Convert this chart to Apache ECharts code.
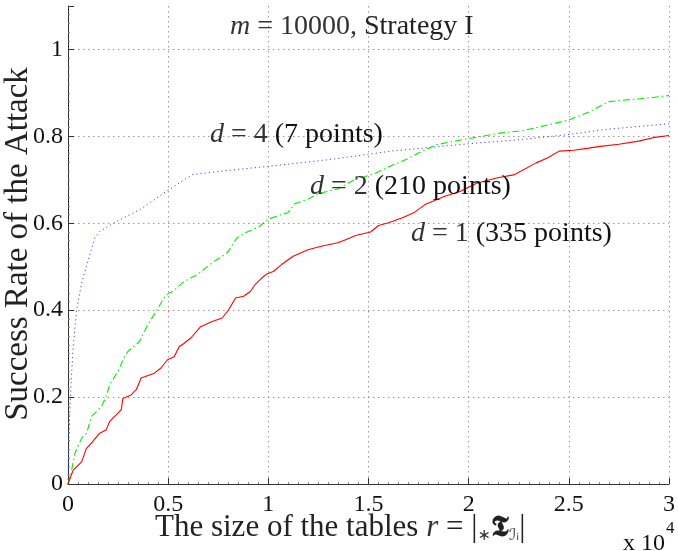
<!DOCTYPE html>
<html><head><meta charset="utf-8">
<script src="https://cdn.jsdelivr.net/npm/echarts@6/dist/echarts.min.js"></script>
<style>html,body{margin:0;padding:0;background:#fff}#c{width:678px;height:551px}</style>
</head><body><div id="c"></div>
<script>
// x values are in units of 10^4
const xTicks = [0, 0.5, 1, 1.5, 2, 2.5, 3];
const yTicks = [0, 0.2, 0.4, 0.6, 0.8, 1];

const redX = [0, 0.026, 0.068, 0.092, 0.117, 0.158, 0.19, 0.208, 0.241, 0.266, 0.274, 0.315, 0.341, 0.365, 0.431, 0.464, 0.497, 0.53, 0.555, 0.58, 0.613, 0.662, 0.72, 0.77, 0.802, 0.836, 0.877, 0.91, 0.934, 0.967, 0.995, 1.025, 1.066, 1.124, 1.198, 1.264, 1.347, 1.38, 1.436, 1.51, 1.551, 1.6, 1.667, 1.726, 1.782, 1.881, 1.957, 2.04, 2.139, 2.23, 2.337, 2.393, 2.452, 2.525, 2.6, 2.657, 2.75, 2.848, 2.921, 3.0];
const redY = [0, 0.032, 0.051, 0.082, 0.094, 0.117, 0.124, 0.144, 0.159, 0.171, 0.197, 0.205, 0.217, 0.244, 0.255, 0.267, 0.286, 0.293, 0.316, 0.324, 0.336, 0.362, 0.374, 0.382, 0.401, 0.428, 0.432, 0.443, 0.459, 0.474, 0.484, 0.489, 0.505, 0.524, 0.539, 0.547, 0.555, 0.561, 0.572, 0.580, 0.595, 0.601, 0.612, 0.624, 0.643, 0.662, 0.673, 0.692, 0.704, 0.712, 0.739, 0.750, 0.766, 0.768, 0.773, 0.777, 0.782, 0.789, 0.797, 0.802];

const greenX = [0, 0.018, 0.035, 0.068, 0.093, 0.117, 0.167, 0.19, 0.208, 0.249, 0.282, 0.299, 0.357, 0.398, 0.439, 0.489, 0.522, 0.58, 0.646, 0.72, 0.794, 0.81, 0.843, 0.885, 0.951, 1.0, 1.042, 1.099, 1.132, 1.2, 1.248, 1.347, 1.429, 1.528, 1.627, 1.693, 1.768, 1.842, 1.941, 2.04, 2.163, 2.27, 2.403, 2.502, 2.6, 2.7, 2.865, 3.0];
const greenY = [0, 0.032, 0.071, 0.105, 0.117, 0.155, 0.178, 0.201, 0.228, 0.259, 0.293, 0.305, 0.328, 0.366, 0.397, 0.435, 0.443, 0.466, 0.482, 0.509, 0.532, 0.543, 0.566, 0.578, 0.591, 0.610, 0.616, 0.625, 0.645, 0.656, 0.668, 0.679, 0.700, 0.714, 0.735, 0.748, 0.766, 0.781, 0.790, 0.798, 0.808, 0.813, 0.827, 0.838, 0.856, 0.880, 0.887, 0.894];

const blueX = [0, 0.003, 0.007, 0.015, 0.026, 0.043, 0.068, 0.101, 0.134, 0.158, 0.241, 0.357, 0.489, 0.621, 0.786, 1.0, 1.33, 1.611, 2.0, 2.27, 2.493, 2.684, 3.0];
const blueY = [0, 0.07, 0.14, 0.232, 0.316, 0.401, 0.462, 0.516, 0.566, 0.581, 0.604, 0.631, 0.673, 0.712, 0.721, 0.731, 0.748, 0.766, 0.783, 0.793, 0.804, 0.816, 0.829];

const titleMath = 'm';
const titleRest = ' = 10000, ';
const titleWord = 'Strategy I';
const annLabels = [
  ['d', ' = 4 ', '(7 points)'],
  ['d', ' = 2 ', '(210 points)'],
  ['d', ' = 1 ', '(335 points)']
];
const yLabel = 'Success Rate of the Attack';
const xLabelText = 'The size of the tables ';
const xScaleText = 'x 10';
const xScaleExp = '4';

function pairs(xs, ys) { return xs.map((x, i) => [x, ys[i]]); }

const serif = 'Liberation Serif';
const chart = echarts.init(document.getElementById('c'), null, { renderer: 'canvas' });

function txt(x, y, text, rich, extra) {
  return {
    type: 'text', x: x, y: y, z: 100,
    style: Object.assign({
      text: text, rich: rich,
      textAlign: 'left', align: 'left',
      textVerticalAlign: 'middle', verticalAlign: 'middle',
      fill: '#222', fontFamily: serif, fontSize: 28
    }, extra || {})
  };
}
const mathRich = {
  m: { fontFamily: serif, fontStyle: 'italic', fontSize: 28, fill: '#333', color: '#333' },
  t: { fontFamily: serif, fontSize: 28, fill: '#333', color: '#333' },
  p: { fontFamily: serif, fontSize: 28, fill: '#111', color: '#111' },
  s: { fontFamily: serif, fontSize: 28, fill: '#222', color: '#222' }
};
const annPos = [[210, 135], [310, 187], [411, 234]];

const graphics = [];
graphics.push(txt(230, 27, '{m|' + titleMath + '}{t|' + titleRest + '}{s|' + titleWord + '}', mathRich));
annLabels.forEach((a, i) => {
  graphics.push(txt(annPos[i][0], annPos[i][1], '{m|' + a[0] + '}{t|' + a[1] + '}{p|' + a[2] + '}', mathRich));
});
const xRich = {
  a: { fontFamily: serif, fontSize: 31, fill: '#222', color: '#222' },
  m: { fontFamily: serif, fontStyle: 'italic', fontSize: 31, fill: '#333', color: '#333' },
  sb: { fontFamily: 'DejaVu Sans', fontSize: 16, fill: '#333', color: '#333', verticalAlign: 'bottom' },
  f: { fontFamily: 'DejaVu Sans', fontWeight: 'bold', fontSize: 29, fill: '#222', color: '#222' }
};
graphics.push(txt(155, 528, '{a|' + xLabelText + '}{m|r}{a| = |}{sb|∗}{f|𝕿}{sb|ℐᵢ}{a||}', xRich));
graphics.push({
  type: 'text', x: 18, y: 244, rotation: Math.PI / 2, z: 100,
  style: { text: yLabel, fontFamily: serif, fontSize: 33, fill: '#222',
    textAlign: 'center', align: 'center', textVerticalAlign: 'middle', verticalAlign: 'middle' }
});
graphics.push(txt(623, 544, xScaleText, null, { fontSize: 24, fill: '#111' }));
graphics.push(txt(666, 529, xScaleExp, null, { fontSize: 17, fill: '#111' }));

const axisCommon = {
  type: 'value',
  axisLine: { show: true, lineStyle: { color: '#333', width: 1 } },
  axisTick: { show: true, inside: true, length: 6, lineStyle: { color: '#333' } },
  minorTick: { show: true, splitNumber: 10, length: 2, lineStyle: { color: '#888' } },
  splitLine: { show: true, showMinLine: false, lineStyle: { color: '#999', type: [1.5, 3.5], width: 1 } }
};

chart.setOption({
  animation: false,
  backgroundColor: '#fff',
  grid: { left: 68, right: 4, top: 6, bottom: 67, containLabel: false },
  xAxis: Object.assign({}, axisCommon, {
    min: xTicks[0], max: xTicks[xTicks.length - 1], interval: xTicks[1] - xTicks[0],
    axisLabel: { fontFamily: serif, fontSize: 24, color: '#111', margin: 9,
      formatter: v => String(+v.toFixed(2)) }
  }),
  yAxis: Object.assign({}, axisCommon, {
    min: 0, max: 1.1, interval: yTicks[1] - yTicks[0],
    axisLabel: { fontFamily: serif, fontSize: 24, color: '#111', margin: 5, showMaxLabel: false,
      formatter: v => String(+v.toFixed(2)) },
    splitLine: { show: true, showMinLine: false, showMaxLine: false, lineStyle: { color: '#999', type: [1.5, 3.5], width: 1 } }
  }),
  series: [
    { type: 'line', name: 'd=4', data: pairs(blueX, blueY), symbol: 'none', showSymbol: false,
      lineStyle: { color: '#4444ff', width: 1, type: [1.2, 3] }, z: 3 },
    { type: 'line', name: 'd=2', data: pairs(greenX, greenY), symbol: 'none', showSymbol: false,
      lineStyle: { color: '#00ee00', width: 1.1, type: [7, 3, 1.5, 3] }, z: 4 },
    { type: 'line', name: 'd=1', data: pairs(redX, redY), symbol: 'none', showSymbol: false,
      lineStyle: { color: '#ff0000', width: 1.1 }, z: 5 }
  ],
  graphic: graphics
});
</script></body></html>
